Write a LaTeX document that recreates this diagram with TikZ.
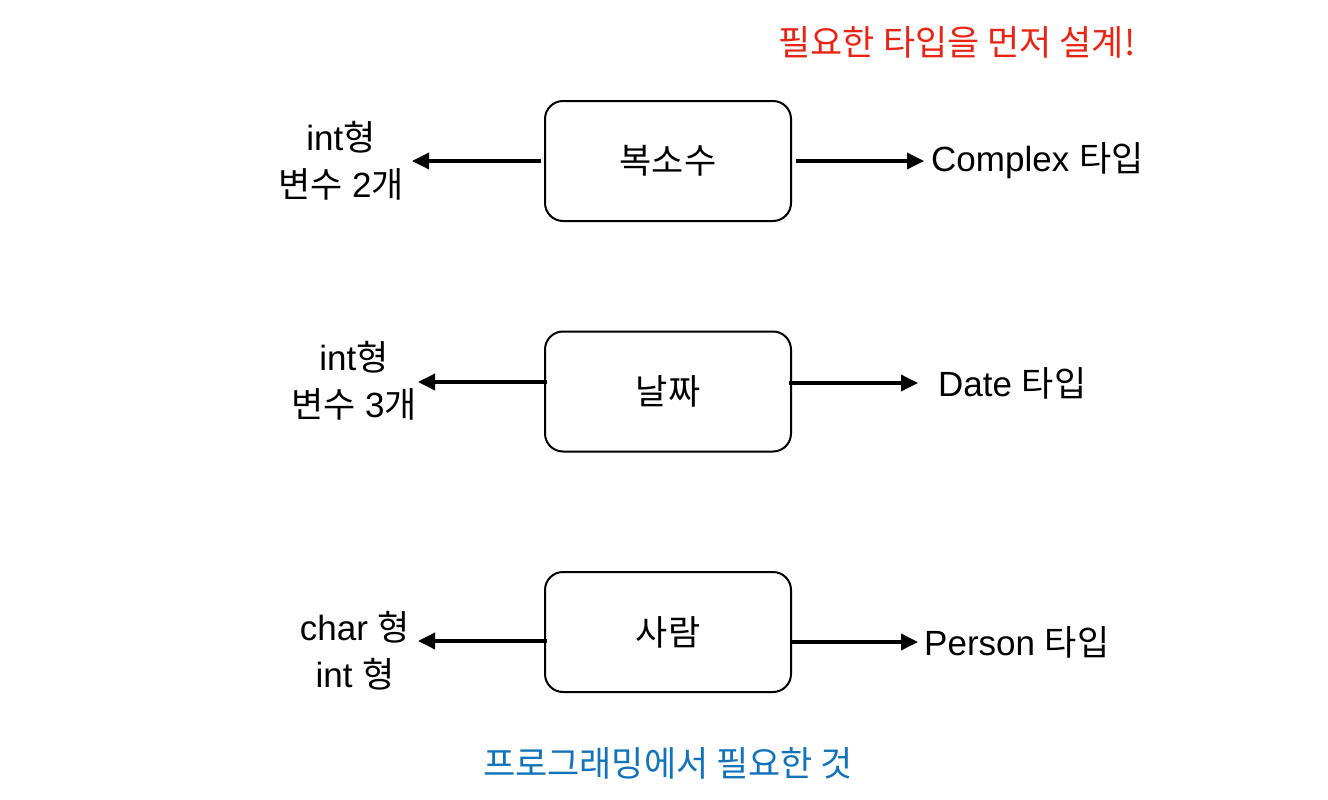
\documentclass[tikz,border=0pt]{standalone}
\usepackage{fontspec}
\setmainfont{Liberation Sans}
\newfontfamily\K{Noto Sans CJK KR}
\usetikzlibrary{arrows.meta}
\definecolor{titlered}{RGB}{232,36,20}
\definecolor{noteblue}{RGB}{18,114,186}
\tikzset{
  box/.style={draw, line width=2pt, rounded corners=18pt, minimum width=246pt, minimum height=120pt, inner sep=0pt, font=\fontsize{35}{42}\selectfont},
  arr/.style={line width=3.5pt, -{Triangle[length=17pt,width=16pt]}},
  lbl/.style={inner sep=0pt, align=center, font=\fontsize{35}{47}\selectfont},
}
\begin{document}
\begin{tikzpicture}[x=1pt,y=-1pt]
\useasboundingbox (0,0) rectangle (1328,800);
% boxes
\node[box] (b1) at (668,161) {\K 복소수};
\node[box] (b2) at (668,391.5) {\K 날짜};
\node[box] (b3) at (668,632) {\K 사람};
% arrow ends
\coordinate (l1) at (412,161);
\coordinate (r1) at (924,161);
\coordinate (l2) at (418,382);
\coordinate (r2) at (918,383);
\coordinate (l3) at (418,641);
\coordinate (r3) at (918,642);
\draw[arr] ([xshift=-3pt]b1.west) -- (l1);
\draw[arr] ([xshift=4pt]b1.east) -- (r1);
\draw[arr] ([xshift=3pt,yshift=9.5pt]b2.west) -- (l2);
\draw[arr] ([xshift=-3pt,yshift=8.5pt]b2.east) -- (r2);
\draw[arr] ([xshift=3pt,yshift=-9pt]b3.west) -- (l3);
\draw[arr] ([xshift=-2pt,yshift=-10pt]b3.east) -- (r3);
% labels
\node[lbl] (t1) at (341,161) {int{\K 형}\\{\K 변수} 2{\K 개}};
\node[lbl,anchor=west] (c1) at (931,161) {Complex {\K 타입}};
\node[lbl] (t2) at (354,381) {int{\K 형}\\{\K 변수} 3{\K 개}};
\node[lbl,anchor=west] (c2) at (938,383) {Date {\K 타입}};
\node[lbl] (t3) at (355,651) {char {\K 형}\\int {\K 형}};
\node[lbl,anchor=west] (c3) at (924,642) {Person {\K 타입}};
% notes
\node[inner sep=0pt, text=titlered, font=\fontsize{35}{42}\selectfont\K] (title) at (957,42) {필요한 타입을 먼저 설계!};
\node[inner sep=0pt, text=noteblue, font=\fontsize{35}{42}\selectfont\K] (note) at (668,763) {프로그래밍에서 필요한 것};
\end{tikzpicture}
\end{document}
